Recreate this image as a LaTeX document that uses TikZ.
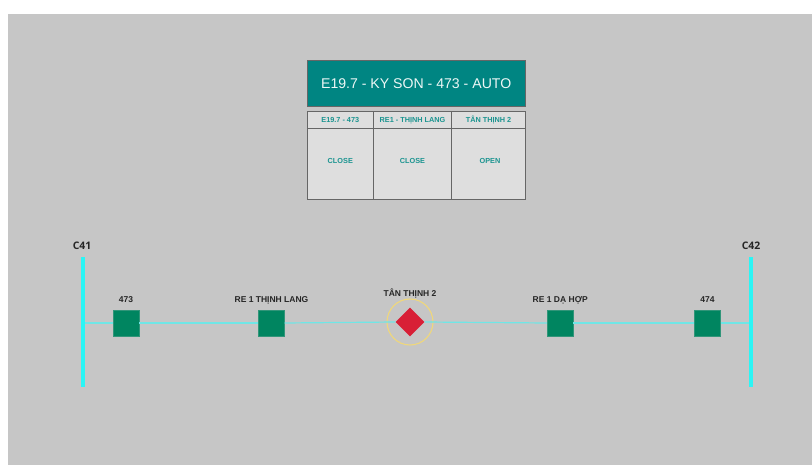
\documentclass[tikz,border=0pt]{standalone}
\usepackage{fontspec}
\setmainfont{Liberation Sans}
\newfontfamily\busfont{Open Sans}
\usetikzlibrary{shapes.geometric}
\definecolor{panel}{HTML}{C6C6C6}
\definecolor{tealbox}{HTML}{008582}
\definecolor{tealtext}{HTML}{1B9490}
\definecolor{cellfill}{HTML}{DEDEDE}
\definecolor{cellline}{HTML}{666666}
\definecolor{swgreen}{HTML}{008560}
\definecolor{swred}{HTML}{D81F36}
\definecolor{ringcol}{HTML}{EFD77C}
\definecolor{feeder}{HTML}{6FE6E6}
\definecolor{busbar}{HTML}{2BF5F5}
\tikzset{
  x=1pt,y=-1pt,
  cellbox/.style={draw=cellline,line width=1pt,fill=cellfill,inner sep=0pt,anchor=north west},
  celltext/.style={text=tealtext,font=\fontsize{7.3}{8}\selectfont\bfseries,inner sep=0pt,anchor=center,text height=5.3pt,text depth=0pt},
  switchbox/.style={draw=swgreen!75!panel,line width=0.4pt,fill=swgreen,minimum size=26pt,inner sep=0pt},
  tag/.style={text=black!85,font=\fontsize{8.5}{10}\selectfont\bfseries,inner sep=0pt,anchor=center,text height=6.1pt,text depth=0pt},
  bustag/.style={text=black!85,font=\busfont\fontsize{10.4}{11}\selectfont\bfseries,inner sep=0pt,anchor=center},
  busrail/.style={draw=none,fill=busbar,inner sep=0pt},
  wire/.style={draw=feeder,line width=1.2pt},
}
\begin{document}
\begin{tikzpicture}
\useasboundingbox (0,0) rectangle (812,465);
\fill[white] (0,0) rectangle (812,465);
\fill[panel] (8,14) rectangle (812,465);
% title
\node[draw=cellline,line width=0.8pt,fill=tealbox,minimum width=218pt,minimum height=45.8pt,inner sep=0pt,text=white!93!tealbox,font=\fontsize{14.1}{17}\selectfont] (title) at (416.2,83.2) {E19.7 - KY SON - 473 - AUTO};
% table
\node[cellbox,minimum width=66.6pt,minimum height=17.5pt] (h1) at (307.2,111.5) {};
\node[cellbox,minimum width=78pt,minimum height=17.5pt] (h2) at (373.3,111.5) {};
\node[cellbox,minimum width=74pt,minimum height=17.5pt] (h3) at (451.3,111.5) {};
\node[cellbox,minimum width=66.6pt,minimum height=70.5pt] (b1) at (307.2,128.5) {};
\node[cellbox,minimum width=78pt,minimum height=70.5pt] (b2) at (373.3,128.5) {};
\node[cellbox,minimum width=74pt,minimum height=70.5pt] (b3) at (451.3,128.5) {};
\node[celltext] (h1t) at (340.3,120.3) {E19.7 - 473};
\node[celltext] (h2t) at (412.5,120.3) {RE1 - THỊNH LANG};
\node[celltext] (h3t) at (488.5,120.3) {TÂN THỊNH 2};
\node[celltext] (b1t) at (340.3,161.3) {CLOSE};
\node[celltext] (b2t) at (412.5,161.3) {CLOSE};
\node[celltext] (b3t) at (490,161.3) {OPEN};
% busbars
\node[busrail,minimum width=4.4pt,minimum height=130pt] (c41) at (83,322) {};
\node[busrail,minimum width=4.4pt,minimum height=130pt] (c42) at (751,322) {};
\node[bustag] (c41t) at (82,246) {C41};
\node[bustag] (c42t) at (751,246) {C42};
% devices
\node[switchbox] (s1) at (126,323) {};
\node[switchbox] (s2) at (271.4,323) {};
\node[switchbox] (s4) at (560,323) {};
\node[switchbox] (s5) at (707.5,323) {};
\node[circle,draw=ringcol,line width=1.1pt,minimum size=46pt,inner sep=0pt] (ring) at (410,322) {};
\node[diamond,aspect=1,fill=swred,minimum size=29pt,inner sep=0pt] (s3) at (410,322) {};
% wires
\coordinate (c41e) at (c41.east |- s1.west);
\coordinate (c42w) at (c42.west |- s5.east);
\draw[wire] (c41e) -- (s1.west);
\draw[wire] (s1.east) -- (s2.west);
\draw[wire] (s2.east) -- (s3.west);
\draw[wire] (s3.east) -- (s4.west);
\draw[wire] (s4.east) -- (s5.west);
\draw[wire] (s5.east) -- (c42w);
% labels
\node[tag] (l1) at (126,299.7) {473};
\node[tag] (l2) at (271.5,299.7) {RE 1 THỊNH LANG};
\node[tag] (l3) at (410,293.3) {TÂN THỊNH 2};
\node[tag] (l4) at (560.2,299.7) {RE 1 DẠ HỢP};
\node[tag] (l5) at (707.5,299.7) {474};
\end{tikzpicture}
\end{document}
